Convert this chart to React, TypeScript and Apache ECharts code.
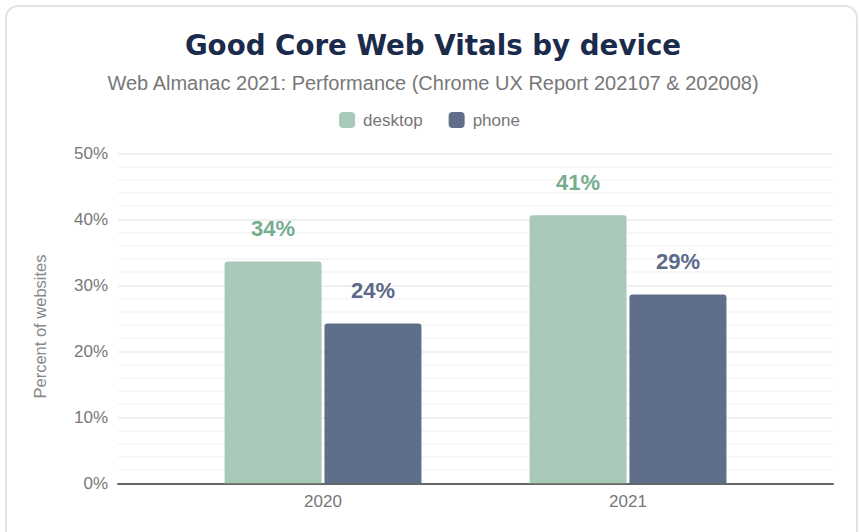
import React, { useEffect, useRef } from "react";
import * as echarts from "echarts";

const categories = ["2020", "2021"];
const desktopValues = [33.6, 40.6];
const phoneValues = [24.2, 28.6];
const seriesNames = ["desktop", "phone"];
const yTicks = [0, 10, 20, 30, 40, 50];
const yAxisName = "Percent of websites";

const DESKTOP = "#a8c9b8";
const DESKTOP_LABEL = "#76ad8f";
const PHONE = "#5f6f8a";
const PHONE_LABEL = "#5b6a88";

export default function App() {
  const ref = useRef<HTMLDivElement>(null);
  useEffect(() => {
    if (!ref.current) return;
    const chart = echarts.init(ref.current, undefined, { renderer: "svg" });
    const font = "'Liberation Sans', Arial, sans-serif";
    const top = 153.3;
    const bottom = 532 - 483.3;
    chart.setOption({
      animation: false,
      backgroundColor: "#ffffff",
      textStyle: { fontFamily: font },
      title: {
        text: "Good Core Web Vitals by device",
        subtext: "Web Almanac 2021: Performance (Chrome UX Report 202107 & 202008)",
        left: 428,
        textAlign: "center",
        top: 26,
        itemGap: 14,
        textStyle: { fontFamily: "'DejaVu Sans', sans-serif", fontSize: 27.7, fontWeight: "bold", color: "#1a2b4b" },
        subtextStyle: { fontFamily: font, fontSize: 20, color: "#777777" },
      },
      legend: {
        data: seriesNames,
        top: 106.5,
        left: "center",
        itemWidth: 16,
        itemHeight: 16,
        itemGap: 26,
        icon: "roundRect",
        textStyle: { fontFamily: font, fontSize: 17, color: "#777777", padding: [0, 0, 0, 3] },
      },
      graphic: [
        {
          type: "rect",
          shape: { x: 6, y: 6, width: 851, height: 560, r: 12 },
          style: { fill: "none", stroke: "#e3e3e3", lineWidth: 2 },
          silent: true,
          z: -1,
        },
        {
          type: "text",
          x: 40,
          y: 326.5,
          rotation: Math.PI / 2,
          silent: true,
          style: {
            text: yAxisName,
            fontFamily: font,
            fontSize: 16.5,
            fill: "#888888",
            align: "center",
            verticalAlign: "middle",
          },
        },
      ],
      grid: [
        { left: 118, right: 26, top, bottom, containLabel: false },
        { left: 170.5, width: 610, top, bottom, containLabel: false },
      ],
      xAxis: [
        {
          type: "value",
          gridIndex: 0,
          min: 0,
          max: 1,
          axisLine: { show: true, onZero: false, lineStyle: { color: "#666666", width: 2 } },
          axisTick: { show: false },
          axisLabel: { show: false },
          splitLine: { show: false },
        },
        {
          type: "category",
          gridIndex: 1,
          data: categories,
          axisLine: { show: false },
          axisTick: { show: false },
          axisLabel: { fontFamily: font, fontSize: 17, color: "#777777", margin: 10 },
        },
      ],
      yAxis: [
        {
          type: "value",
          gridIndex: 0,
          min: 0,
          max: 50,
          interval: 10,
          axisLine: { show: false },
          axisTick: { show: false },
          axisLabel: {
            fontFamily: font,
            fontSize: 17,
            color: "#777777",
            margin: 10,
            customValues: yTicks,
            formatter: (v: number) => `${v}%`,
          },
          splitLine: { show: true, lineStyle: { color: "#ebebeb", width: 1.5 } },
          minorTick: { show: false, splitNumber: 5 },
          minorSplitLine: { show: true, lineStyle: { color: "#f4f4f4", width: 1.5 } },
        },
        {
          type: "value",
          gridIndex: 1,
          min: 0,
          max: 50,
          show: false,
          splitLine: { show: false },
        },
      ],
      series: [
        {
          name: seriesNames[0],
          type: "bar",
          xAxisIndex: 1,
          yAxisIndex: 1,
          data: desktopValues,
          barWidth: 97,
          barGap: "3%",
          itemStyle: { color: DESKTOP, borderRadius: [3, 3, 0, 0] },
          label: {
            show: true,
            position: "top",
            distance: 22,
            fontFamily: font,
            fontSize: 22,
            fontWeight: "bold",
            color: DESKTOP_LABEL,
            formatter: (p: any) => `${Math.round(p.value)}%`,
          },
        },
        {
          name: seriesNames[1],
          type: "bar",
          xAxisIndex: 1,
          yAxisIndex: 1,
          data: phoneValues,
          barWidth: 97,
          barGap: "3%",
          itemStyle: { color: PHONE, borderRadius: [3, 3, 0, 0] },
          label: {
            show: true,
            position: "top",
            distance: 22,
            fontFamily: font,
            fontSize: 22,
            fontWeight: "bold",
            color: PHONE_LABEL,
            formatter: (p: any) => `${Math.round(p.value)}%`,
          },
        },
      ],
    });
    return () => chart.dispose();
  }, []);
  return (
    <div
      ref={ref}
      style={{ position: "fixed", left: 0, top: 0, width: 859, height: 532 }}
    />
  );
}
